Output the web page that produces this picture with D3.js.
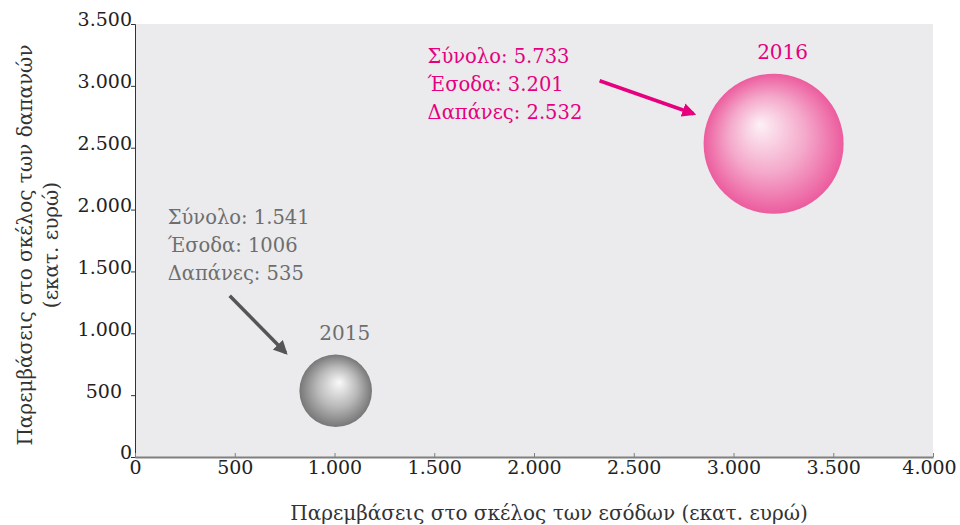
<!DOCTYPE html>
<html>
<head>
<meta charset="utf-8">
<script src="https://cdn.jsdelivr.net/npm/d3@7"></script>
<style>
  body { margin: 0; background: #fff; }
  svg text { font-family: "DejaVu Serif", "Liberation Serif", serif; }
</style>
</head>
<body>
<div id="chart"></div>
<script>
// data
const years = ["2015", "2016"];
const incomeSide = [1006, 3201];    // x: εσόδων
const expenseSide = [535, 2532];    // y: δαπανών
const totals = [1541, 5733];
const labelLines = [
  ["Σύνολο: 1.541", "Έσοδα: 1006", "Δαπάνες: 535"],
  ["Σύνολο: 5.733", "Έσοδα: 3.201", "Δαπάνες: 2.532"]
];
const xTicks = [0, 500, 1000, 1500, 2000, 2500, 3000, 3500, 4000];
const yTicks = [0, 500, 1000, 1500, 2000, 2500, 3000, 3500];

const width = 960, height = 525;
const margin = {top: 24, right: 27, bottom: 68, left: 135};
const innerW = width - margin.left - margin.right;
const innerH = height - margin.top - margin.bottom;

const locale = d3.formatLocale({decimal: ",", thousands: ".", grouping: [3], currency: ["", "€"]});
const fmt = locale.format(",d");

const svg = d3.select("#chart").append("svg")
  .attr("width", width)
  .attr("height", height);

const defs = svg.append("defs");
const pinkGrad = defs.append("radialGradient")
  .attr("id", "gPink").attr("cx", "0.5").attr("cy", "0.5").attr("r", "0.5")
  .attr("fx", "0.4").attr("fy", "0.36");
pinkGrad.append("stop").attr("offset", "0%").attr("stop-color", "#fdf1f6");
pinkGrad.append("stop").attr("offset", "55%").attr("stop-color", "#f4a8ca");
pinkGrad.append("stop").attr("offset", "100%").attr("stop-color", "#ec5c9e");
const grayGrad = defs.append("radialGradient")
  .attr("id", "gGray").attr("cx", "0.5").attr("cy", "0.5").attr("r", "0.5")
  .attr("fx", "0.55").attr("fy", "0.38");
grayGrad.append("stop").attr("offset", "0%").attr("stop-color", "#fafafa");
grayGrad.append("stop").attr("offset", "55%").attr("stop-color", "#b9b9b9");
grayGrad.append("stop").attr("offset", "100%").attr("stop-color", "#777777");

const arrowPink = defs.append("marker").attr("id", "aPink")
  .attr("viewBox", "0 0 10 10").attr("refX", 8).attr("refY", 5)
  .attr("markerWidth", 4).attr("markerHeight", 4).attr("orient", "auto")
  .attr("markerUnits", "strokeWidth");
arrowPink.append("path").attr("d", "M0,0L10,5L0,10z").attr("fill", "#e6007e");
const arrowGray = defs.append("marker").attr("id", "aGray")
  .attr("viewBox", "0 0 10 10").attr("refX", 8).attr("refY", 5)
  .attr("markerWidth", 4).attr("markerHeight", 4).attr("orient", "auto")
  .attr("markerUnits", "strokeWidth");
arrowGray.append("path").attr("d", "M0,0L10,5L0,10z").attr("fill", "#555555");

const g = svg.append("g").attr("transform", `translate(${margin.left},${margin.top})`);

const x = d3.scaleLinear().domain([0, 4000]).range([0, innerW]);
const y = d3.scaleLinear().domain([0, 3500]).range([innerH, 0]);
const r = d3.scaleSqrt().domain([0, d3.max(totals)]).range([0, 70]);

// plot background
g.append("rect")
  .attr("x", 0).attr("y", 0)
  .attr("width", innerW).attr("height", innerH)
  .attr("fill", "#ebebed");

// y axis
const yAxis = g.append("g")
  .call(d3.axisLeft(y).tickValues(yTicks).tickSize(4).tickFormat(fmt));
yAxis.select(".domain").attr("stroke", "#333").attr("stroke-width", 1);
yAxis.selectAll(".tick line").attr("stroke", "#333");
yAxis.selectAll(".tick text")
  .attr("font-size", 19).attr("fill", "#222").attr("x", -3).attr("dy", "0.1em");
yAxis.selectAll(".tick text").filter(d => d === 500).attr("x", -13);

// x axis
const xAxis = g.append("g")
  .attr("transform", `translate(0,${innerH})`)
  .call(d3.axisBottom(x).tickValues(xTicks).tickSize(0).tickFormat(fmt));
xAxis.select(".domain").attr("stroke", "#808080").attr("stroke-width", 2);
xAxis.selectAll(".tick").append("line")
  .attr("y1", 0).attr("y2", -4).attr("stroke", "#808080");
xAxis.selectAll(".tick text")
  .attr("font-size", 19).attr("fill", "#222").attr("y", 3).attr("dy", "0.71em");
xAxis.selectAll(".tick text").filter(d => d === 4000).attr("x", -4);

// axis titles
svg.append("text")
  .attr("x", 549).attr("y", 520)
  .attr("text-anchor", "middle")
  .attr("font-size", 20).attr("fill", "#333")
  .text("Παρεμβάσεις στο σκέλος των εσόδων (εκατ. ευρώ)");
const yTitle = svg.append("text")
  .attr("transform", "translate(0,245) rotate(-90)")
  .attr("text-anchor", "middle")
  .attr("font-size", 20).attr("fill", "#333");
yTitle.append("tspan").attr("x", 0).attr("y", 32).text("Παρεμβάσεις στο σκέλος των δαπανών");
yTitle.append("tspan").attr("x", 0).attr("y", 58).text("(εκατ. ευρώ)");

// bubbles
const colors = ["#6e6e6e", "#e6007e"];
const grads = ["url(#gGray)", "url(#gPink)"];
const points = years.map((yr, i) => ({
  year: yr, x: incomeSide[i], y: expenseSide[i], total: totals[i], lines: labelLines[i], i
}));

g.selectAll("circle.bubble")
  .data(points)
  .join("circle")
  .attr("class", "bubble")
  .attr("cx", d => x(d.x))
  .attr("cy", d => y(d.y))
  .attr("r", d => r(d.total))
  .attr("fill", d => grads[d.i]);

g.selectAll("text.year")
  .data(points)
  .join("text")
  .attr("class", "year")
  .attr("x", d => x(d.x) + 9)
  .attr("y", d => y(d.y) - r(d.total) - 15)
  .attr("text-anchor", "middle")
  .attr("font-size", 20)
  .attr("fill", d => colors[d.i])
  .text(d => d.year);

// annotation blocks (offsets relative to each bubble)
const annOffset = [{dx: -168, dy: -167}, {dx: -346, dy: -81}];
const arrowOffset = [
  {x1: -106, y1: -95, x2: -50, y2: -38},
  {x1: -174, y1: -63, x2: -80, y2: -30}
];

points.forEach(d => {
  const cx = x(d.x), cy = y(d.y);
  const o = annOffset[d.i];
  const t = g.append("text")
    .attr("font-size", 19.5)
    .attr("fill", colors[d.i]);
  d.lines.forEach((line, k) => {
    t.append("tspan")
      .attr("x", cx + o.dx)
      .attr("y", cy + o.dy + k * 28)
      .text(line);
  });
  const a = arrowOffset[d.i];
  g.append("line")
    .attr("x1", cx + a.x1).attr("y1", cy + a.y1)
    .attr("x2", cx + a.x2).attr("y2", cy + a.y2)
    .attr("stroke", d.i === 0 ? "#555555" : "#e6007e")
    .attr("stroke-width", 3.5)
    .attr("marker-end", d.i === 0 ? "url(#aGray)" : "url(#aPink)");
});
</script>
</body>
</html>
